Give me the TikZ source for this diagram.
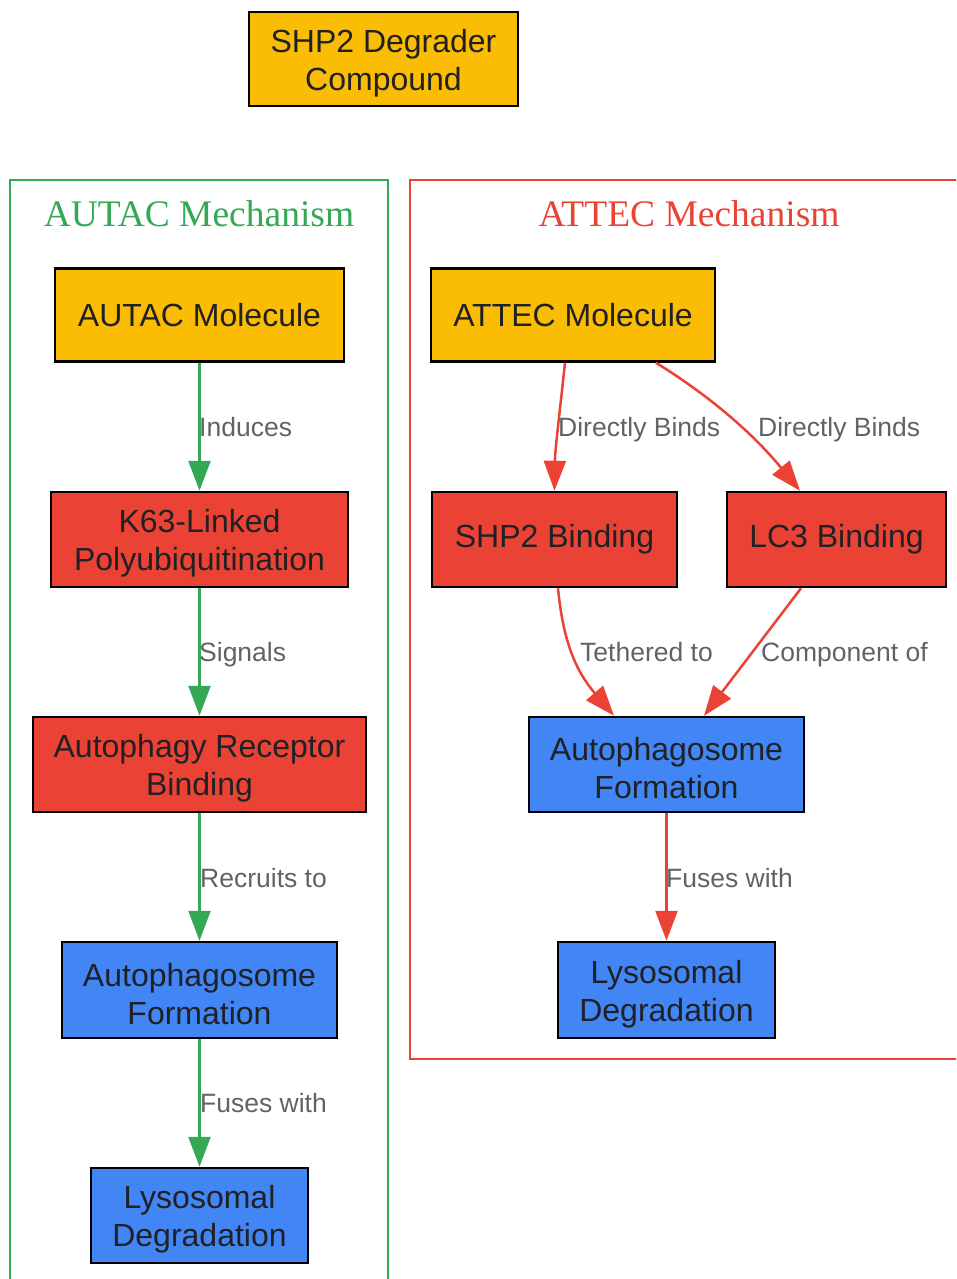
\documentclass[tikz,border=0pt]{standalone}
\usepackage{fontspec}
\setmainfont{Liberation Sans}
\newfontfamily\titlefont{Liberation Serif}
\usetikzlibrary{arrows.meta}
\definecolor{gy}{HTML}{FBBC04}
\definecolor{gr}{HTML}{EA4335}
\definecolor{gb}{HTML}{4285F4}
\definecolor{gg}{HTML}{34A853}
\definecolor{txt}{HTML}{202124}
\definecolor{lblc}{HTML}{5F6368}
\newcommand\firstln{\rule{0pt}{31pt}}
\begin{document}
\begin{tikzpicture}[x=1pt,y=-1pt,
  box/.style={draw=black, line width=2.5pt, inner sep=0pt, align=center, text=txt,
    font=\fontsize{32}{38}\selectfont},
  yel/.style={box, fill=gy},
  red/.style={box, fill=gr},
  blu/.style={box, fill=gb},
  lbl/.style={text=lblc, font=\fontsize{26.5}{30}\selectfont, inner sep=0pt, anchor=base west},
  ttl/.style={font=\titlefont\fontsize{37.5}{40}\selectfont, inner sep=0pt},
  gedge/.style={draw=gg, line width=2.5pt, -{Triangle[length=30pt,width=22pt]}},
  redge/.style={draw=gr, line width=2.5pt, -{Triangle[length=30pt,width=22pt]}},
  clus/.style={line width=2pt}
]
\useasboundingbox (0,0) rectangle (956,1279);
\clip (0,0) rectangle (956,1279);

% clusters
\draw[clus, draw=gg] (10,180) rectangle (388,1300);
\draw[clus, draw=gr] (410,180) rectangle (975,1059);
\node[ttl, text=gg] (t1) at (199,214) {AUTAC Mechanism};
\node[ttl, text=gr] (t2) at (689,214) {ATTEC Mechanism};

% top node
\node[yel, minimum width=269pt, minimum height=94pt] (top) at (383.5,59) {\firstln SHP2 Degrader\\Compound};

% AUTAC nodes
\node[yel, minimum width=289pt, minimum height=93pt] (am) at (199.5,315) {AUTAC Molecule};
\node[red, minimum width=297pt, minimum height=95pt] (k63) at (199.5,539.5) {\firstln K63-Linked\\Polyubiquitination};
\node[red, minimum width=333pt, minimum height=95pt] (arb) at (199.5,764.5) {\firstln Autophagy Receptor\\Binding};
\node[blu, minimum width=275pt, minimum height=96pt] (af1) at (199.5,990) {\firstln Autophagosome\\Formation};
\node[blu, minimum width=217pt, minimum height=95pt] (ld1) at (199.5,1215.5) {\firstln Lysosomal\\Degradation};

% ATTEC nodes
\node[yel, minimum width=284pt, minimum height=93pt] (atm) at (573,315) {ATTEC Molecule};
\node[red, minimum width=245pt, minimum height=95pt] (shp) at (554.5,539.5) {SHP2 Binding};
\node[red, minimum width=219pt, minimum height=95pt] (lc3) at (836.5,539.5) {LC3 Binding};
\node[blu, minimum width=275pt, minimum height=95pt] (af2) at (666.5,764.5) {\firstln Autophagosome\\Formation};
\node[blu, minimum width=217pt, minimum height=96pt] (ld2) at (666.5,990) {\firstln Lysosomal\\Degradation};

% AUTAC edges
\draw[gedge] (am) -- (k63);
\draw[gedge] (k63) -- (arb);
\draw[gedge] (arb) -- (af1);
\draw[gedge] (af1) -- (ld1);
\node[lbl] (l1) at (199,436.5) {Induces};
\node[lbl] (l2) at (199,661.5) {Signals};
\node[lbl] (l3) at (200,887.5) {Recruits to};
\node[lbl] (l4) at (200,1112.5) {Fuses with};

% ATTEC edges
\draw[redge] ([xshift=-8pt]atm.south) .. controls (560,410) and (555,450) .. (shp.north);
\draw[redge] ([xshift=83pt]atm.south) .. controls (705,393) and (750,430) .. ([xshift=-36.5pt]lc3.north);
\draw[redge] ([xshift=3.5pt]shp.south) .. controls (563,640) and (575,670) .. ([xshift=-52.5pt]af2.north);
\draw[redge] ([xshift=-35.5pt]lc3.south) -- ([xshift=37.5pt]af2.north);
\draw[redge] (af2) -- (ld2);
\node[lbl] (l5) at (558,436.5) {Directly Binds};
\node[lbl] (l6) at (758,436.5) {Directly Binds};
\node[lbl] (l7) at (580,661.5) {Tethered to};
\node[lbl] (l8) at (761,661.5) {Component of};
\node[lbl] (l9) at (666,887.5) {Fuses with};
\end{tikzpicture}
\end{document}
